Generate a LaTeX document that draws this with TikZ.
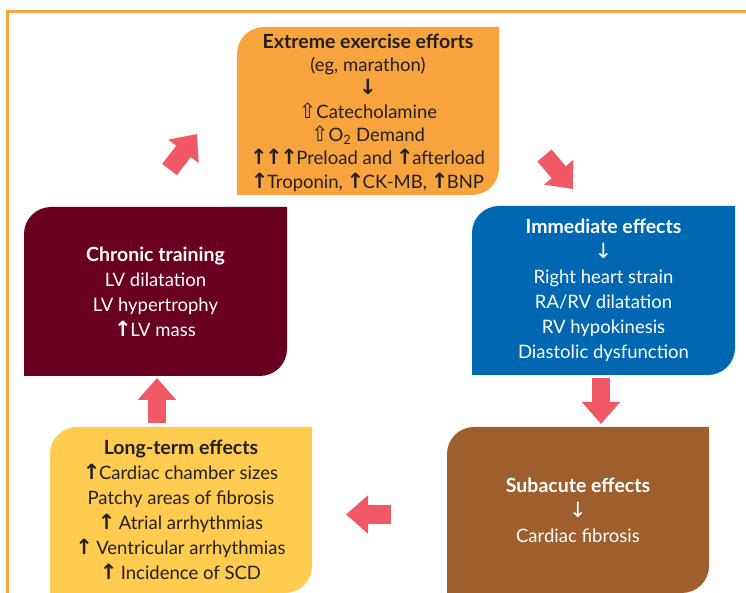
\documentclass[tikz,border=0pt]{standalone}
\usepackage{fontspec}
\setmainfont{Lato}
\newfontfamily\arrowfont{DejaVu Sans}
\usetikzlibrary{calc}
\usetikzlibrary{arrows.meta}

\definecolor{frameorange}{HTML}{F9A640}
\definecolor{exorange}{HTML}{F8A43E}
\definecolor{immblue}{HTML}{0067B2}
\definecolor{chrred}{HTML}{690020}
\definecolor{subbrown}{HTML}{9E5F2E}
\definecolor{lngyellow}{HTML}{FFCC4F}
\definecolor{arrowred}{HTML}{F05866}
\definecolor{darktext}{HTML}{231F20}

\newcommand{\uparr}{{\arrowfont\bfseries\fontsize{21}{21}\selectfont\kern-1pt↑\kern-1.5pt}}
\newcommand{\dnarr}{{\arrowfont\fontsize{21}{21}\selectfont ↓}}
\newcommand{\dnarrbold}{{\arrowfont\bfseries\fontsize{21}{21}\selectfont ↓}}
\newcommand{\hollowup}{{\arrowfont\fontsize{21}{21}\selectfont ⇧}}
\newcommand{\heading}[1]{{\bfseries\fontsize{19.5}{25}\selectfont #1}}
% leaf shaped box: bottom left and top right corners sharp
\newcommand{\leafbox}[3]{%
  \fill[#1] (#2) -- ($(#2|-#3)+(0,-27)$) arc[start angle=180,end angle=90,radius=27pt]
    -- (#3) -- ($(#3|-#2)+(0,27)$) arc[start angle=0,end angle=-90,radius=27pt] -- cycle;}

\begin{document}
\begin{tikzpicture}[x=1pt,y=1pt,
    boxtext/.style={align=center,font=\fontsize{18.5}{25}\selectfont,inner sep=0pt},
    bigarrow/.style={draw=arrowred,line width=18.5pt,-{Triangle[width=37pt,length=22pt]}}]
  \useasboundingbox (0,0) rectangle (746,593);
  \draw[frameorange,line width=3pt] (7.5,0) |- (746,581.5);
  % corners of the boxes
  \coordinate (E1) at (237,398);  \coordinate (E2) at (499,566);
  \coordinate (I1) at (472,218);  \coordinate (I2) at (735,387);
  \coordinate (C1) at (24,217);   \coordinate (C2) at (287,386);
  \coordinate (S1) at (447,0);    \coordinate (S2) at (709,166);
  \coordinate (L1) at (50,0);     \coordinate (L2) at (312,166);
  \leafbox{exorange}{E1}{E2}
  \leafbox{immblue}{I1}{I2}
  \leafbox{chrred}{C1}{C2}
  \leafbox{subbrown}{S1}{S2}
  \leafbox{lngyellow}{L1}{L2}
  \node[boxtext,text=darktext,font=\fontsize{18.5}{23.3}\selectfont] (ext) at ($(E1)!0.5!(E2)+(0,-1.5)$)
    {\heading{Extreme exercise efforts}\\(eg, marathon)\\\dnarrbold\\\hollowup Catecholamine\\
     \hollowup O\textsubscript{2} Demand\\\uparr\uparr\uparr Preload and \uparr afterload\\
     \uparr Troponin, \uparr CK-MB, \uparr BNP};
  \node[boxtext,text=white] (imm) at ($(I1)!0.5!(I2)$)
    {\heading{Immediate effects}\\\dnarr\\Right heart strain\\RA/RV dilatation\\RV hypokinesis\\Diastolic dysfunction};
  \node[boxtext,text=white] (chr) at ($(C1)!0.5!(C2)$)
    {\heading{Chronic training}\\LV dilatation\\LV hypertrophy\\\uparr LV mass};
  \node[boxtext,text=white] (sub) at ($(S1)!0.5!(S2)$)
    {\heading{Subacute effects}\\\dnarr\\Cardiac fibrosis};
  \node[boxtext,text=darktext] (lng) at ($(L1)!0.5!(L2)$)
    {\heading{Long-term effects}\\\uparr Cardiac chamber sizes\\Patchy areas of fibrosis\\\uparr\ Atrial arrhythmias\\
     \uparr\ Ventricular arrhythmias\\\uparr\ Incidence of SCD};
  % arrow ends
  \coordinate (a1) at (544.5,437.5); \coordinate (b1) at (573,404);
  \coordinate (a2) at (601,215);     \coordinate (b2) at (601,169);
  \coordinate (a3) at (391,78.5);    \coordinate (b3) at (346,78.5);
  \coordinate (a4) at (157,170);     \coordinate (b4) at (157,215);
  \coordinate (a5) at (169.5,423.5); \coordinate (b5) at (197,459);
  \draw[bigarrow] (a1) -- (b1);
  \draw[bigarrow] (a2) -- (b2);
  \draw[bigarrow] (a3) -- (b3);
  \draw[bigarrow] (a4) -- (b4);
  \draw[bigarrow] (a5) -- (b5);
\end{tikzpicture}
\end{document}
